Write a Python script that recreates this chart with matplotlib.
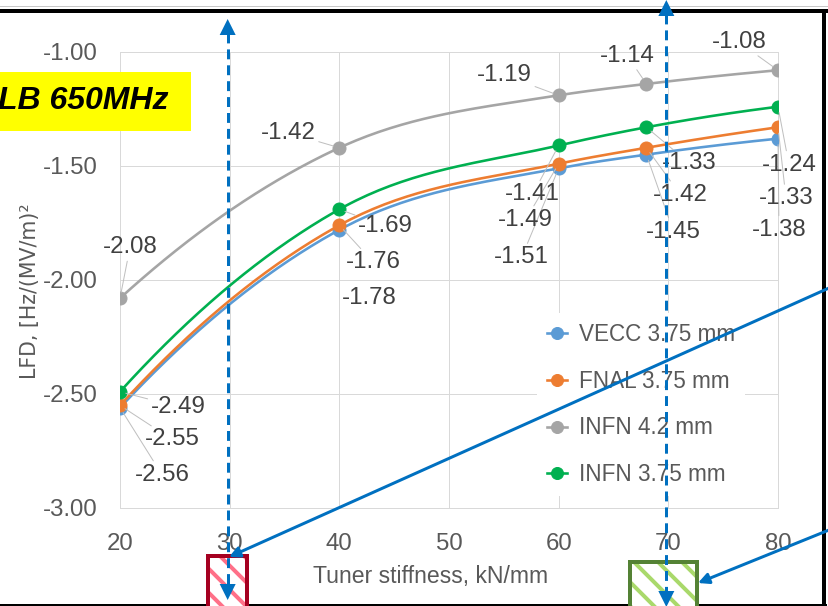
import numpy as np
import matplotlib
matplotlib.use("Agg")
import matplotlib.pyplot as plt
from matplotlib import font_manager
from matplotlib.lines import Line2D
from matplotlib.patches import Rectangle, Polygon, FancyArrowPatch
from matplotlib.transforms import IdentityTransform

# data
stiffness = [20, 40, 60, 68, 80]
series_names = ["VECC 3.75 mm", "FNAL 3.75 mm", "INFN 4.2 mm", "INFN 3.75 mm"]
vecc_375 = [-2.56, -1.78, -1.51, -1.45, -1.38]
fnal_375 = [-2.55, -1.76, -1.49, -1.42, -1.33]
infn_42 = [-2.08, -1.42, -1.19, -1.14, -1.08]
infn_375 = [-2.49, -1.69, -1.41, -1.33, -1.24]
x_ticks = [20, 30, 40, 50, 60, 70, 80]
y_ticks = [-3.0, -2.5, -2.0, -1.5, -1.0]

colors = ["#5b9bd5", "#ed7d31", "#a5a5a5", "#00b050"]

# data label offsets (pixels, y up)
offsets_vecc = [(42, -67), (30, -68), (-37, -89), (27, -77), (1, -91)]
offsets_fnal = [(52, -34), (34, -37), (-33, -56), (34, -47), (8, -71)]
offsets_i42 = [(10, 51), (-51, 15), (-54, 20), (-19, 28), (-39, 28)]
offsets_i375 = [(58, -15), (46, -17), (-26, -49), (43, -36), (11, -58)]

W, H = 828, 606
DPI = 72
FS = 24

plt.rcParams["axes.unicode_minus"] = False
plt.rcParams["hatch.linewidth"] = 4

names = {f.name for f in font_manager.fontManager.ttflist}
narrow = "Liberation Sans Narrow" if "Liberation Sans Narrow" in names else "Liberation Sans"
plt.rcParams["font.family"] = [narrow, "DejaVu Sans"]

fig = plt.figure(figsize=(W / DPI, H / DPI), dpi=DPI)
ax = fig.add_axes([120 / W, 1 - 508 / H, (778 - 120) / W, (508 - 52) / H])


def smooth(xs, ys, n=40):
    # piecewise cubic Hermite with Bessel tangents (like the office smoothed line)
    x = np.asarray(xs, float)
    y = np.asarray(ys, float)
    h = np.diff(x)
    d = np.diff(y) / h
    m = np.zeros_like(y)
    for i in range(1, len(x) - 1):
        m[i] = (h[i - 1] * d[i] + h[i] * d[i - 1]) / (h[i - 1] + h[i])
    m[0] = ((2 * h[0] + h[1]) * d[0] - h[0] * d[1]) / (h[0] + h[1])
    m[-1] = ((2 * h[-1] + h[-2]) * d[-1] - h[-1] * d[-2]) / (h[-1] + h[-2])
    px, py = [], []
    for i in range(len(x) - 1):
        t = np.linspace(0, 1, n)
        h00 = 2 * t ** 3 - 3 * t ** 2 + 1
        h10 = t ** 3 - 2 * t ** 2 + t
        h01 = -2 * t ** 3 + 3 * t ** 2
        h11 = t ** 3 - t ** 2
        px.append(x[i] + t * h[i])
        py.append(h00 * y[i] + h10 * h[i] * m[i] + h01 * y[i + 1] + h11 * h[i] * m[i + 1])
    return np.concatenate(px), np.concatenate(py)


all_series = [vecc_375, fnal_375, infn_42, infn_375]
all_offsets = [offsets_vecc, offsets_fnal, offsets_i42, offsets_i375]

handles = []
for k, (vals, col) in enumerate(zip(all_series, colors)):
    sx, sy = smooth(stiffness, vals)
    ax.plot(sx, sy, color=col, lw=2.6, zorder=3 + k, solid_capstyle="round")
    ax.plot(stiffness, vals, "o", ms=13, color=col, zorder=3 + k)
    handles.append(Line2D([], [], color=col, lw=2.6, marker="o", ms=12))

for k, (vals, offs) in enumerate(zip(all_series, all_offsets)):
    for x, v, (dx, dy) in zip(stiffness, vals, offs):
        leader = not (k == 0 and x == 40)
        ax.annotate(f"{v:.2f}", xy=(x, v), xytext=(dx, dy), textcoords="offset pixels",
                    ha="center", va="center", fontsize=FS, color="#404040",
                    annotation_clip=False, zorder=10,
                    arrowprops=dict(arrowstyle="-", color="#bfbfbf", lw=1,
                                    shrinkA=1, shrinkB=6) if leader else None)

ax.set_xlim(20, 80)
ax.set_ylim(-3, -1)
ax.set_xticks(x_ticks)
ax.set_yticks(y_ticks)
ax.set_yticklabels([f"{v:.2f}" for v in y_ticks])
ax.grid(True, color="#d9d9d9", lw=1)
ax.set_axisbelow(True)
for s in ax.spines.values():
    s.set_color("#d9d9d9")
    s.set_linewidth(1)
ax.tick_params(axis="both", length=0, labelsize=FS, colors="#595959")
ax.tick_params(axis="x", pad=25)
ax.tick_params(axis="y", pad=22)

leg = ax.legend(handles, series_names, loc="upper left",
                bbox_to_anchor=(537 / W, 1 - 313 / H), bbox_transform=fig.transFigure,
                frameon=True, fancybox=False, facecolor="white", edgecolor="none",
                framealpha=1, fontsize=22.5, handlelength=0.9, handletextpad=0.5,
                labelspacing=1.05, borderpad=0.45, borderaxespad=0)
for t in leg.get_texts():
    t.set_color("#595959")

fig.text(431 / W, 1 - 577 / H, "Tuner stiffness, kN/mm", ha="center", va="center",
         fontsize=23, color="#595959")
fig.text(30 / W, 1 - 291 / H, "LFD, [Hz/(MV/m)²", rotation=90, ha="center", va="center",
         fontsize=20.5, color="#595959", family="DejaVu Sans")

# overlay drawn in image pixels (y down)
pix = IdentityTransform()


def P(x, y):
    return (x, H - y)


fig.add_artist(Rectangle(P(0, 131), 191, 59, transform=pix, facecolor="#ffff00",
                         edgecolor="none", zorder=20))
fig.text(-2 / W, 1 - 101 / H, "LB 650MHz", ha="left", va="center", fontsize=32,
         fontweight="bold", style="italic", color="black", family="Liberation Sans", zorder=21)

# frame lines of the slide
fig.add_artist(Line2D([0, W], [H - 6, H - 6], transform=pix, color="#c8c8c8", lw=1, zorder=20))
fig.add_artist(Line2D([0, 826], [H - 11, H - 11], transform=pix, color="black", lw=4, zorder=20))
fig.add_artist(Line2D([824, 824], [H - 11, 0], transform=pix, color="black", lw=4, zorder=20))
fig.add_artist(Line2D([0, 826], [H - 604.5, H - 604.5], transform=pix, color="black", lw=2, zorder=20))

blue = "#0070c0"

# hatched boxes below the axis
fig.add_artist(Rectangle(P(208, 612), 39, 56, transform=pix, facecolor="white",
                         edgecolor="#ff7088", lw=0, hatch="\\", zorder=21))
fig.add_artist(Rectangle(P(208, 612), 39, 56, transform=pix, facecolor="none",
                         edgecolor="#a50021", lw=4, zorder=22))
fig.add_artist(Rectangle(P(630, 612), 67, 50, transform=pix, facecolor="white",
                         edgecolor="#a9d96b", lw=0, hatch="\\", zorder=21))
fig.add_artist(Rectangle(P(630, 612), 67, 50, transform=pix, facecolor="none",
                         edgecolor="#548235", lw=4, zorder=22))


def head(x, tip_y, direction, size=16):
    # direction -1 points up, +1 points down (image coordinates)
    base = tip_y - direction * size
    pts = [P(x, tip_y), P(x - size / 2, base), P(x + size / 2, base)]
    fig.add_artist(Polygon(pts, closed=True, transform=pix, facecolor=blue,
                           edgecolor="none", zorder=24))


# dashed vertical arrows at 30 and 70 kN/mm
for xv, top_tip, bot_tip in [(30, 19, 600), (70, 0, 607)]:
    xp = ax.transData.transform((xv, -2))[0] - 2
    fig.add_artist(Line2D([xp, xp], [H - (top_tip + 14), H - (bot_tip - 14)], transform=pix,
                          color=blue, lw=3, dashes=(3.3, 2.0), zorder=23))
    head(xp, top_tip, -1)
    head(xp, bot_tip, 1)

# solid arrows pointing at the boxes
for start, end in [((829, 288), (229, 557)), ((829, 530), (698, 583))]:
    fig.add_artist(FancyArrowPatch(P(*start), P(*end), transform=pix, arrowstyle="-|>",
                                   mutation_scale=22, lw=3, color=blue,
                                   shrinkA=0, shrinkB=0, zorder=24))

fig.savefig("out.png", dpi=DPI, facecolor="white")
